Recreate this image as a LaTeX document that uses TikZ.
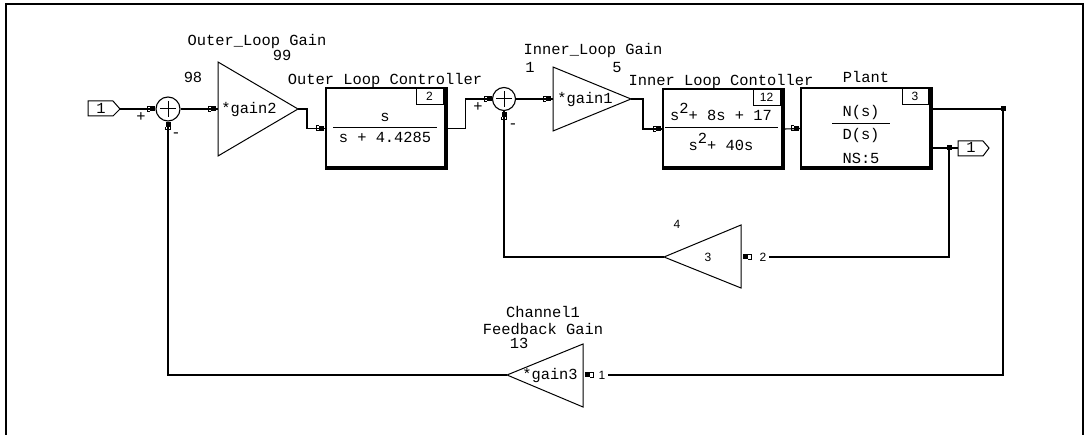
\documentclass[tikz,border=0pt]{standalone}
\usepackage{fontspec}
\newfontfamily\monof{Liberation Mono}
\newfontfamily\sansf{Liberation Sans}
\begin{document}
\begin{tikzpicture}[x=1pt,y=-1pt,
  lbl/.style={inner sep=0pt, font=\monof\fontsize{15.4}{16}\selectfont, text height=9pt, text depth=0pt},
  num/.style={inner sep=0pt, font=\sansf\fontsize{12}{13}\selectfont, text height=8.6pt, text depth=0pt},
  wire/.style={line width=1.1pt},
  tri/.style={line width=1pt, line join=miter},
  sumnode/.style={circle, draw, line width=1.1pt, minimum size=24pt, inner sep=0pt},
  blk/.style={draw, line width=1.1pt, inner sep=0pt},
  nbox/.style={draw, line width=1pt, inner sep=0pt, minimum height=17pt, anchor=north east, font=\sansf\fontsize{12}{13}\selectfont},
  pmark/.pic={\fill (-1,-2.5) rectangle (4,2.5); \draw[line width=1pt] (-1,-2.5) -- (-4,-2.5) -- (-4,2.5) -- (-1,2.5);},
  pmarkl/.pic={\fill (-4,-2.5) rectangle (1,2.5); \draw[line width=1pt] (1,-2.5) -- (4,-2.5) -- (4,2.5) -- (1,2.5);},
  pmarkv/.pic={\fill (-2.5,-4) rectangle (2.5,1); \draw[line width=1pt] (-2.5,1) -- (-2.5,4) -- (2.5,4) -- (2.5,1);},
  jdot/.style={fill, inner sep=0pt, minimum size=5pt, rectangle}
]
\useasboundingbox (0,0) rectangle (1085,435);
\fill[white] (0,0) rectangle (1085,435);
% frame
\draw[line width=2pt] (6,435) -- (6,4) -- (1083,4) -- (1083,435);

% input port
\draw[line width=1pt] (88,101) -- (113,101) -- (120,109) -- (113,116) -- (88,116) -- cycle;
\node[lbl] (in1) at (101,109) {1};
\coordinate (inp) at (120,109);

% sum 1
\node[sumnode] (s1) at (168,109) {};
\draw[line width=1pt] (160,109) -- (176,109) (168,101) -- (168,117);
\node[lbl] (s1p) at (141,117) {+};
\node[lbl] (s1m) at (176,133) {-};

% gain2
\draw[tri] (218,62) -- (298,109) -- (218,156) -- cycle;
\coordinate (g2in) at (218,109);
\coordinate (g2out) at (298,109);
\node[lbl] (g2t) at (249,109) {*gain2};
\node[lbl] (g2n) at (257,41) {Outer\_Loop Gain};
\node[lbl] (g2a) at (282,56) {99};
\node[lbl] (g2b) at (193,78) {98};

% block 1
\node[blk, minimum width=121pt, minimum height=81pt] (b1) at (386.5,128.5) {};
\fill ([xshift=-4pt]b1.north east) rectangle (b1.south east);
\fill ([yshift=4pt]b1.south west) rectangle (b1.south east);
\node[nbox, minimum width=27pt] (b1n) at ([xshift=-4pt]b1.north east) {2};
\node[lbl] (b1t) at (385,80) {Outer Loop Controller};
\node[lbl] (b1u) at (385,117) {s};
\draw[line width=1pt] (333,128) -- (437,128);
\node[lbl] (b1d) at (385,138) {s + 4.4285};

% sum 2
\node[sumnode, minimum size=23pt] (s2) at (504,99) {};
\draw[line width=1pt] (496,99) -- (512,99) (504,91) -- (504,107);
\node[lbl] (s2p) at (478,107) {+};
\node[lbl] (s2m) at (513,124) {-};

% gain1
\draw[tri] (553,67) -- (631,99) -- (553,131) -- cycle;
\coordinate (g1in) at (553,99);
\coordinate (g1out) at (631,99);
\node[lbl] (g1t) at (585,99) {*gain1};
\node[lbl] (g1n) at (593,50) {Inner\_Loop Gain};
\node[lbl] (g1a) at (530,68) {1};
\node[lbl] (g1b) at (617,68) {5};

% block 2
\node[blk, minimum width=121pt, minimum height=80pt] (b2) at (723.5,129) {};
\fill ([xshift=-4pt]b2.north east) rectangle (b2.south east);
\fill ([yshift=4pt]b2.south west) rectangle (b2.south east);
\node[nbox, minimum width=27pt] (b2n) at ([xshift=-4pt]b2.north east) {12};
\node[lbl] (b2t) at (721,81) {Inner Loop Contoller};
\node[lbl] (b2u) at (721,116) {s\raisebox{7pt}{2}+ 8s + 17};
\draw[line width=1pt] (665,128) -- (778,128);
\node[lbl] (b2d) at (721,146) {s\raisebox{7pt}{2}+ 40s};

% plant
\node[blk, minimum width=131pt, minimum height=81pt] (p) at (866.5,128.5) {};
\fill ([xshift=-4pt]p.north east) rectangle (p.south east);
\fill ([yshift=4pt]p.south west) rectangle (p.south east);
\node[nbox, minimum width=26pt] (pn) at ([xshift=-4pt]p.north east) {3};
\node[lbl] (pt) at (866,78) {Plant};
\node[lbl] (pu) at (861,112) {N(s)};
\draw[line width=1pt] (832,124) -- (890,124);
\node[lbl] (pd) at (861,135) {D(s)};
\node[lbl] (pns) at (861,159) {NS:5};

% output port
\draw[line width=1pt] (958,141) -- (983,141) -- (989,148) -- (983,156) -- (958,156) -- cycle;
\node[lbl] (out1) at (971,148) {1};
\coordinate (outp) at (958,148);

% junctions
\node[jdot] (j1) at (1003,109) {};
\node[jdot] (j2) at (949,148) {};

% inner feedback gain
\draw[tri] (741,225) -- (664,257) -- (741,288) -- cycle;
\coordinate (g4out) at (664,257);
\node[num] (g4t) at (708,257) {3};
\node[num] (g4a) at (677,224) {4};
\node[num] (l2) at (763,257) {2};

% outer feedback gain
\draw[tri] (583,344) -- (507,375) -- (583,407) -- cycle;
\coordinate (g3out) at (507,375);
\node[lbl] (g3t) at (550,375) {*gain3};
\node[num] (l1) at (602,375) {1};
\node[lbl] (g3n1) at (543,313) {Channel1};
\node[lbl] (g3n2) at (543,330) {Feedback Gain};
\node[lbl] (g3a) at (519,344) {13};

% wires
\draw[wire] (inp) -- (s1.west);
\draw[wire] (s1.east) -- (g2in);
\draw[wire] (g2out) -- ++(9,0) |- (b1.west);
\draw[wire] (b1.east) -- ++(18,0) |- (s2.west);
\draw[wire] (s2.east) -- (g1in);
\draw[wire] (g1out) -- ++(12,0) |- (b2.west);
\draw[wire] (b2.east) -- (p.west);
\draw[wire] (p.east |- j1) -- (j1.center) |- ([xshift=2pt]l1.east);
\draw[wire] (p.east |- j2) -- (outp);
\draw[wire] (j2.center) |- ([xshift=2pt]l2.east);
\draw[wire] (g4out) -| (s2.south);
\draw[wire] (g3out) -| (s1.south);

% port markers
\pic at (151,109) {pmark};
\pic at (212,109) {pmark};
\pic at (320,128.5) {pmark};
\pic at (488,99) {pmark};
\pic at (547,99) {pmark};
\pic at (657,129) {pmark};
\pic at (795,128.5) {pmark};
\pic at (168,126) {pmarkv};
\pic at (504,116) {pmarkv};
\pic at (747,257) {pmarkl};
\pic at (589,375) {pmarkl};
\end{tikzpicture}
\end{document}
